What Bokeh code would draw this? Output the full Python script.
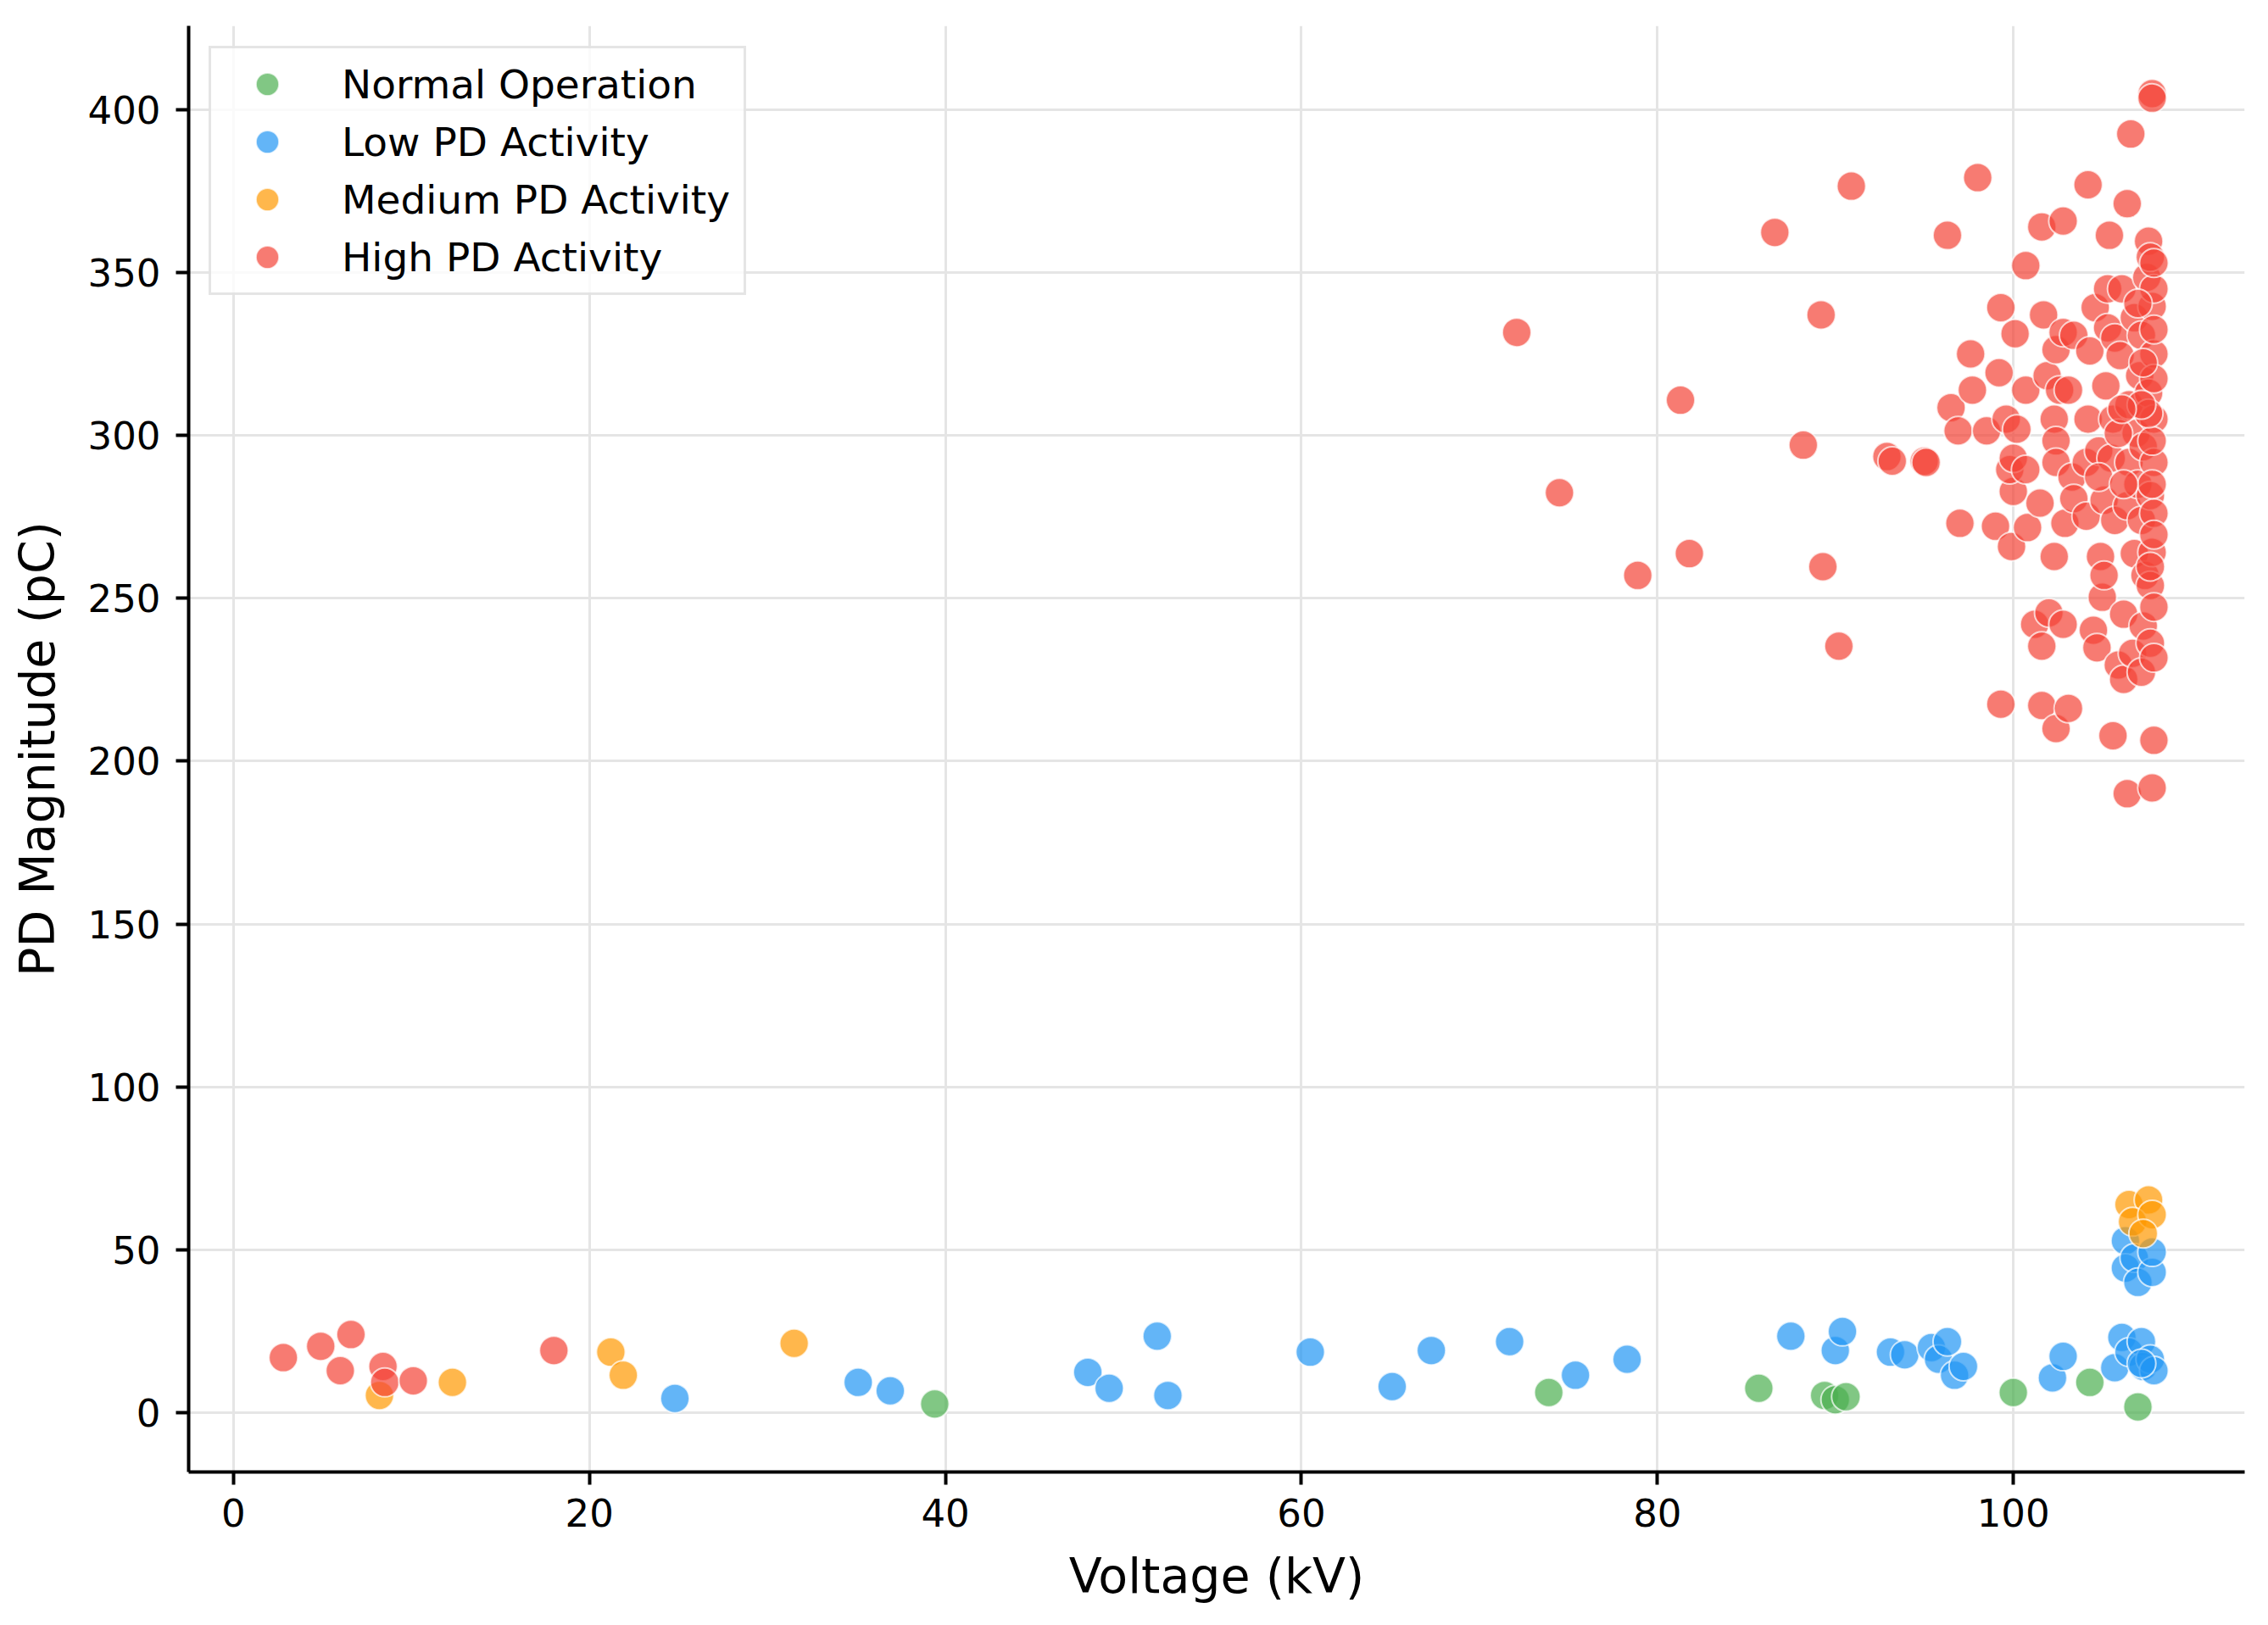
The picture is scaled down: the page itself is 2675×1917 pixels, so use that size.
from bokeh.plotting import figure
from bokeh.models import Range1d, FixedTicker
from bokeh.embed import file_html
from bokeh.resources import INLINE

# ---------------- data ----------------
normal_kv = [39.4, 73.9, 85.7, 89.4, 90.0, 90.6, 100.0, 104.3, 107.0]
normal_pc = [2.7, 6.2, 7.5, 5.3, 4.0, 4.9, 6.2, 9.3, 1.8]

low_kv = [24.8, 35.1, 36.9, 48.0, 49.2, 51.9, 52.5, 60.5, 65.1, 67.3, 71.7, 75.4, 78.3,
          87.5, 90.0, 90.4, 93.1, 93.9, 95.4, 95.8, 96.3, 96.7, 97.2, 102.2, 102.8,
          105.7, 106.1, 106.5, 107.2, 107.3, 107.7, 107.9, 107.2,
          106.3, 106.3, 106.8, 107.0, 107.8, 107.8]
low_pc = [4.4, 9.3, 6.7, 12.4, 7.5, 23.5, 5.3, 18.6, 8.0, 19.1, 21.8, 11.5, 16.4,
          23.5, 19.1, 24.9, 18.6, 17.8, 20.0, 16.4, 21.8, 11.5, 14.2, 10.7, 17.3,
          13.8, 23.1, 18.6, 21.8, 14.2, 16.4, 12.9, 15.1,
          52.8, 44.4, 47.5, 40.0, 43.1, 49.3]

med_kv = [8.2, 12.3, 21.2, 21.9, 31.5, 106.5, 107.6, 106.7, 107.8, 107.3]
med_pc = [5.3, 9.3, 18.6, 11.5, 21.3, 63.9, 65.3, 58.6, 60.8, 55.0]

high_kv = [2.8, 4.9, 6.0, 6.6, 8.4, 8.5, 10.1, 18.0,
           72.1, 74.5, 78.9, 81.3, 81.8, 86.6, 88.2, 89.2, 89.3, 90.2, 90.9,
           92.9, 93.2, 95.0, 95.1, 96.3, 96.5, 96.9, 97.0, 97.6, 97.7, 98.0, 98.5,
           99.0, 99.3, 99.3, 99.2, 99.6, 99.9, 100.0, 99.8, 100.0, 100.1, 100.2,
           100.7, 100.7, 100.7, 100.8, 101.2, 101.5, 101.6, 101.6, 101.7, 101.6,
           101.9, 102.0, 102.3, 102.4, 102.3, 102.4, 102.4, 102.4, 102.6, 102.8,
           102.8, 102.9, 102.8, 103.1, 103.1, 103.3, 103.4, 103.4, 104.1, 104.2,
           104.1, 104.2, 104.3, 104.5, 104.6, 104.7, 104.8, 104.9, 105.0, 105.1,
           105.1, 105.2, 105.3, 105.3, 105.4, 105.5, 105.6, 105.6, 105.7, 105.7,
           105.9, 106.0, 106.1, 106.2, 106.2, 106.4, 106.4, 106.4, 106.5, 106.5,
           106.6, 106.7, 106.8, 106.8, 106.9, 107.0, 107.1, 107.2, 107.2, 107.2,
           107.3, 107.3, 107.4, 107.5, 107.6, 107.6, 107.7, 107.7, 107.7, 107.7,
           107.8, 107.8, 107.8, 107.8, 107.8, 107.9, 107.9, 107.9, 107.9, 107.9,
           107.9, 107.9, 107.9, 107.9, 107.9, 107.9, 107.9, 107.8, 107.8, 107.7,
           107.6, 107.3, 107.0, 107.2, 105.9, 106.1, 104.8, 106.2]
high_pc = [16.9, 20.4, 12.9, 24.0, 14.2, 9.3, 9.8, 19.1,
           331.6, 282.4, 257.0, 310.8, 263.7, 362.3, 297.0, 337.0, 259.7, 235.3, 376.5,
           293.5, 292.1, 292.1, 291.7, 361.4, 308.5, 301.4, 273.0, 325.0, 313.9, 379.1, 301.4,
           272.1, 339.2, 217.5, 319.2, 305.0, 265.9, 282.8, 289.5, 293.0, 331.2, 301.9,
           352.1, 313.9, 289.5, 271.7, 242.0, 279.2, 364.0, 235.3, 337.0, 217.1,
           318.3, 245.5, 262.8, 210.0, 305.0, 298.3, 291.7, 326.3, 313.9, 242.0,
           365.8, 273.0, 331.6, 216.2, 313.9, 287.2, 280.6, 330.7, 291.7, 376.9,
           275.2, 305.0, 325.9, 240.2, 339.2, 234.8, 295.2, 262.8, 250.3, 280.1,
           257.0, 315.2, 345.0, 333.0, 361.4, 293.0, 305.0, 207.8, 329.9, 273.9,
           229.5, 324.5, 345.0, 225.1, 245.1, 371.1, 190.0, 278.4, 291.7, 309.4,
           392.5, 233.1, 263.7, 336.1, 300.6, 285.0, 318.3, 227.3, 273.9, 330.7,
           296.5, 241.5, 257.0, 348.5, 313.0, 359.6, 253.9, 354.7, 281.5, 236.2,
           404.9, 403.5, 339.6, 264.1, 191.8, 206.4, 305.0, 325.0, 231.7, 247.3,
           291.7, 317.4, 276.1, 345.0, 332.5, 269.5, 352.9, 298.3, 285.0, 259.7,
           306.7, 322.3, 340.5, 309.4, 300.6, 308.1, 287.2, 285.0]

series = [
    ("Normal Operation", normal_kv, normal_pc, "#4CAF50"),
    ("Low PD Activity", low_kv, low_pc, "#2196F3"),
    ("Medium PD Activity", med_kv, med_pc, "#FF9800"),
    ("High PD Activity", high_kv, high_pc, "#F44336"),
]

x_ticks = [0, 20, 40, 60, 80, 100]
y_ticks = [0, 50, 100, 150, 200, 250, 300, 350, 400]

# ---------------- figure ----------------
FONT = "DejaVu Sans"
p = figure(width=2659, height=1901, output_backend="svg", toolbar_location=None,
           x_range=Range1d(-2.52, 113.0), y_range=Range1d(-18.2, 425.7),
           min_border_left=222, min_border_right=12, min_border_top=30, min_border_bottom=165,
           x_axis_label="Voltage (kV)", y_axis_label="PD Magnitude (pC)")
p.outline_line_color = None
p.background_fill_color = "white"
p.border_fill_color = "white"

for name, xs, ys, col in series:
    p.scatter(xs, ys, size=34, fill_color=col, fill_alpha=0.7,
              line_color="white", line_alpha=0.7, line_width=2, legend_label=name)

for ax in (p.xaxis[0], p.yaxis[0]):
    ax.axis_line_width = 4
    ax.axis_line_color = "black"
    ax.major_tick_line_width = 4
    ax.major_tick_line_color = "black"
    ax.major_tick_out = 15
    ax.major_tick_in = 0
    ax.minor_tick_line_color = None
    ax.major_label_text_font = FONT
    ax.major_label_text_font_size = "45px"
    ax.major_label_text_color = "black"
    ax.axis_label_text_font = FONT
    ax.axis_label_text_font_size = "57px"
    ax.axis_label_text_font_style = "normal"
    ax.axis_label_text_color = "black"

p.xaxis[0].ticker = FixedTicker(ticks=x_ticks)
p.yaxis[0].ticker = FixedTicker(ticks=y_ticks)
p.xaxis[0].major_label_standoff = 16
p.xaxis[0].axis_label_standoff = 22
p.yaxis[0].major_label_standoff = 18
p.yaxis[0].axis_label_standoff = 24

p.xgrid.grid_line_color = "#e5e5e5"
p.ygrid.grid_line_color = "#e5e5e5"
p.xgrid.grid_line_width = 3
p.ygrid.grid_line_width = 3
p.xgrid.ticker = FixedTicker(ticks=x_ticks)
p.ygrid.ticker = FixedTicker(ticks=y_ticks)

lg = p.legend[0]
lg.location = "top_left"
lg.margin = 24
lg.padding = 8
lg.spacing = 0
lg.glyph_width = 116
lg.glyph_height = 68
lg.label_height = 68
lg.label_standoff = 30
lg.label_width = 466
lg.label_text_font = FONT
lg.label_text_font_size = "47px"
lg.label_text_color = "black"
lg.border_line_color = "#cccccc"
lg.border_line_width = 3
lg.background_fill_color = "white"
lg.background_fill_alpha = 0.8

open("out.html", "w").write(file_html(p, INLINE))
